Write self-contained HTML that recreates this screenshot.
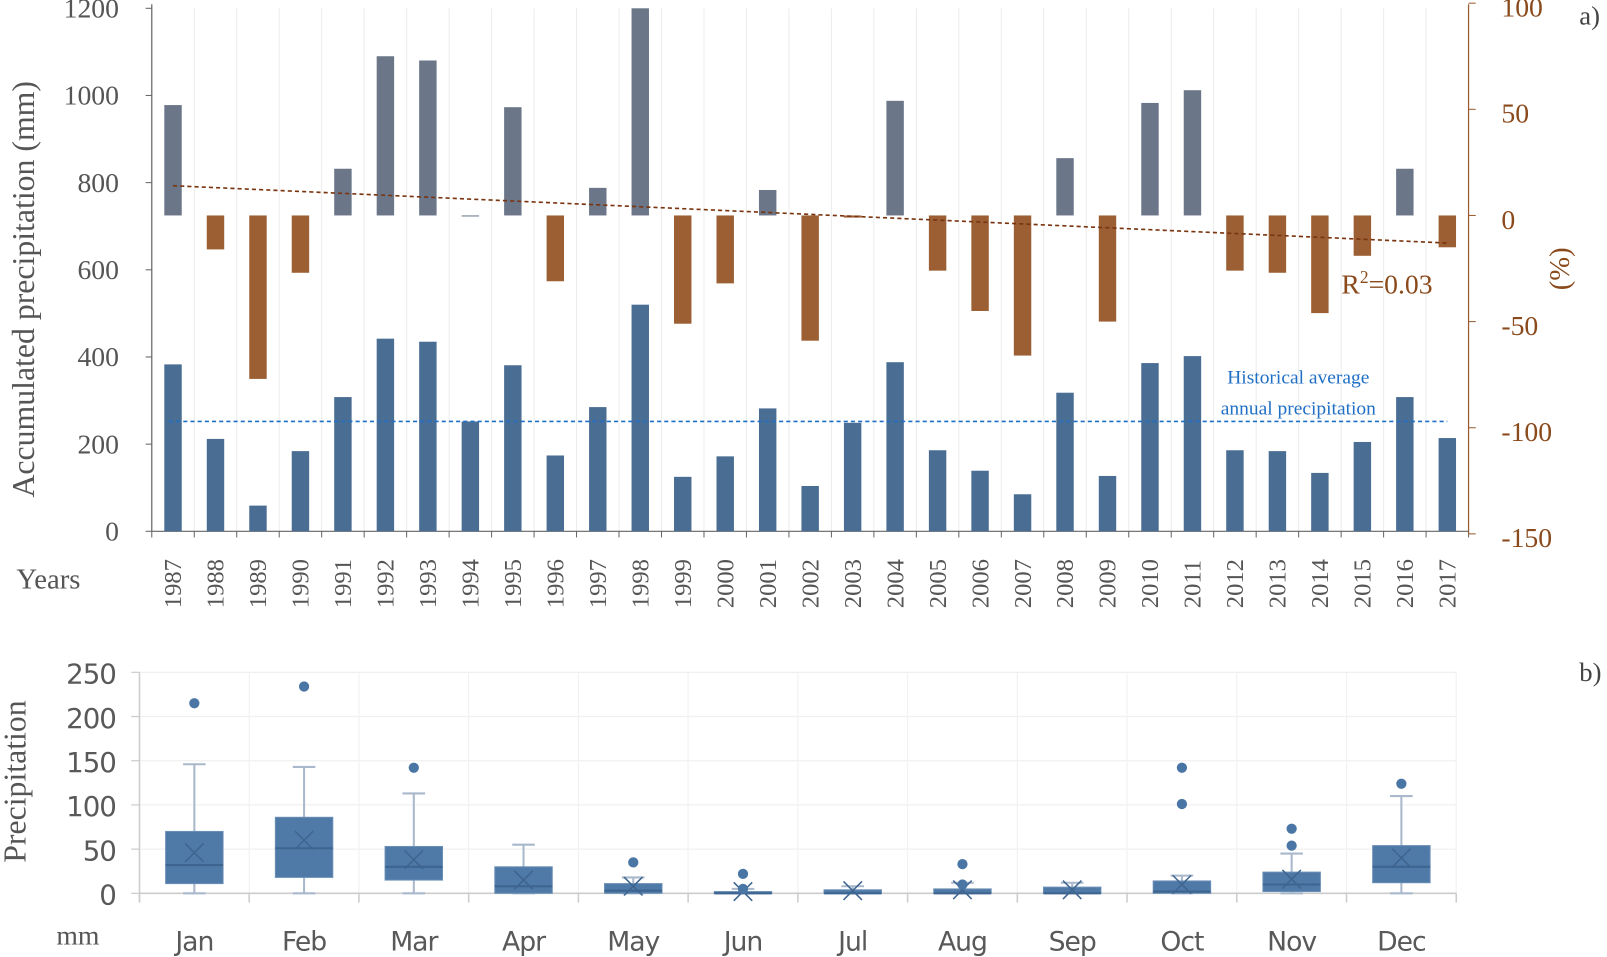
<!DOCTYPE html>
<html><head><meta charset="utf-8"><style>
html,body{margin:0;padding:0;background:#fff;}
svg{display:block;}
</style></head><body>
<svg id="chart" width="1607" height="957" viewBox="0 0 1567 933" xmlns="http://www.w3.org/2000/svg">
<g id="top"></g>
<g id="bot"></g>
</svg>
<script>
const years = [1987,1988,1989,1990,1991,1992,1993,1994,1995,1996,1997,1998,1999,2000,2001,2002,2003,2004,2005,2006,2007,2008,2009,2010,2011,2012,2013,2014,2015,2016,2017];
const precipMM = [383,212,59,184,308,442,435,252,381,174,285,520,125,172,282,104,249,388,186,139,85,318,127,386,402,186,184,134,205,308,214];
const anomalyPct = [52,-16,-77,-27,22,75,73,0,51,-31,13,106,-51,-32,12,-59,-1,54,-26,-45,-66,27,-50,53,59,-26,-27,-46,-19,22,-15];
const leftTicks = [0,200,400,600,800,1000,1200];
const rightTicks = [-150,-100,-50,0,50,100];
const historicalAvg = 252;
const trendStartEnd = [14,-13];

const months = ['Jan','Feb','Mar','Apr','May','Jun','Jul','Aug','Sep','Oct','Nov','Dec'];
const boxMin = [0,0,0,0,0,0,0,0,0,0,0,0];
const boxQ1 = [11,18,15,0,0,0,0,0,0,0,2,12];
const boxMed = [32,51,30,8,3,0,0,0,0,2,10,30];
const boxQ3 = [70,86,53,30,11,2,4,5,7,14,24,54];
const boxMax = [146,143,113,55,18,5,8,12,12,20,45,110];
const boxMean = [46,60,38,15,8,2,3,4,4,10,16,40];
const boxOutliers = [[215],[234],[142],[],[35],[22,5],[],[33,10],[],[142,101],[73,54],[124]];
const botTicks = [0,50,100,150,200,250];

const NS='http://www.w3.org/2000/svg';
function mk(parent,tag,attrs,text){const e=document.createElementNS(NS,tag);for(const k in attrs)e.setAttribute(k,attrs[k]);if(text!==undefined)e.textContent=text;parent.appendChild(e);return e;}

// ---------- top chart ----------
const T=document.getElementById('top');
const X0=148,X1=1432,step=(X1-X0)/years.length;
const yL=v=>518-v*0.425;
const yR=v=>210-v*2.07;
const xc=i=>X0+step*(i+0.5);
const serif='"Liberation Serif", serif';
for(let i=1;i<years.length;i++){const g=mk(T,'line',{x1:X0+step*i,x2:X0+step*i,y1:8,y2:518,stroke:'#ececec','stroke-width':1});
}
let ax=mk(T,'line',{x1:X0,x2:X0,y1:4,y2:518,stroke:'#666','stroke-width':1.2});

leftTicks.forEach(v=>{const y=yL(v);
 mk(T,'line',{x1:X0-6,x2:X0,y1:y,y2:y,stroke:'#666'});
 const t=mk(T,'text',{x:X0-32,y:y+9,'text-anchor':'end','font-family':serif,'font-size':27,fill:'#555'},v);
 });
ax=mk(T,'line',{x1:X0,x2:X1,y1:518,y2:518,stroke:'#666','stroke-width':1.2});

for(let i=0;i<=years.length;i++)mk(T,'line',{x1:X0+step*i,x2:X0+step*i,y1:518,y2:524,stroke:'#666'});
ax=mk(T,'line',{x1:X1,x2:X1,y1:4,y2:520,stroke:'#9a5a2e','stroke-width':1.2});

rightTicks.forEach(v=>{const y=yR(v);
 mk(T,'line',{x1:X1,x2:X1+7,y1:y,y2:y,stroke:'#9a5a2e'});
 const t=mk(T,'text',{x:X1+32,y:y+13,'text-anchor':'start','font-family':serif,'font-size':27,fill:'#8a4a1c'},v);
 });
anomalyPct.forEach((v,i)=>{const h=Math.abs(yR(v)-yR(0));
 const top=Math.max(yR(Math.max(v,0)),8);const hh=v>0?yR(0)-top:h;
 const r=mk(T,'rect',{x:xc(i)-8.5,y:v>0?top:yR(0),width:17,height:Math.max(hh,1),fill:v>=0?'#6b7789':'#9b5f33'});
 });
precipMM.forEach((v,i)=>{const r=mk(T,'rect',{x:xc(i)-8.5,y:yL(v),width:17,height:518-yL(v),fill:'#4a6d93'});
 });
let l=mk(T,'line',{x1:xc(0)-4,x2:xc(years.length-1),y1:yL(historicalAvg),y2:yL(historicalAvg),stroke:'#1f6fc5','stroke-width':1.6,'stroke-dasharray':'4,3'});

l=mk(T,'line',{x1:xc(0),x2:xc(years.length-1),y1:yR(trendStartEnd[0]),y2:yR(trendStartEnd[1]),stroke:'#7a3510','stroke-width':1.6,'stroke-dasharray':'4,3'});

years.forEach((yr,i)=>{const t=mk(T,'text',{x:0,y:0,transform:`translate(${xc(i)+8},593) rotate(-90)`,'font-family':serif,'font-size':24,fill:'#555'},yr);
 });
let t=mk(T,'text',{x:0,y:0,transform:'translate(33,282) rotate(-90)','text-anchor':'middle','font-family':serif,'font-size':31,fill:'#555'},'Accumulated precipitation (mm)');

t=mk(T,'text',{x:0,y:0,transform:'translate(1530,262) rotate(-90)','text-anchor':'middle','font-family':serif,'font-size':28,fill:'#8a4a1c'},'(%)');

t=mk(T,'text',{x:16,y:574,'font-family':serif,'font-size':28,fill:'#555'},'Years');

t=mk(T,'text',{x:1308,y:286,'font-family':serif,'font-size':27,fill:'#8a4a1c'});

t.innerHTML='R<tspan dy="-10" font-size="17">2</tspan><tspan dy="10">=0.03</tspan>';
t=mk(T,'text',{x:1266,y:374,'text-anchor':'middle','font-family':serif,'font-size':19,fill:'#1f6fc5'},'Historical average');

t=mk(T,'text',{x:1266,y:404,'text-anchor':'middle','font-family':serif,'font-size':19,fill:'#1f6fc5'},'annual precipitation');

t=mk(T,'text',{x:1540,y:24,'font-family':serif,'font-size':26,fill:'#444'},'a)');


// ---------- bottom chart ----------
const B=document.getElementById('bot');
const BX0=136,BX1=1420,bstep=(BX1-BX0)/12;
const yB=v=>871-v*0.862;
const bx=i=>BX0+bstep*(i+0.5);
const sans='"DejaVu Sans", "Liberation Sans", sans-serif';
botTicks.forEach(v=>{const y=yB(v);
 if(v>0){const g=mk(B,'line',{x1:BX0,x2:BX1,y1:y,y2:y,stroke:'#f0f0f0','stroke-width':1.2});}
 mk(B,'line',{x1:BX0-8,x2:BX0,y1:y,y2:y,stroke:'#ccc','stroke-width':1.2});
 const tt=mk(B,'text',{x:113,y:y+11,'text-anchor':'end','font-family':sans,'font-size':27,fill:'#595959','letter-spacing':'-1'},v);
 });
for(let i=1;i<=12;i++)mk(B,'line',{x1:BX0+bstep*i,x2:BX0+bstep*i,y1:yB(250),y2:871,stroke:'#f2f2f2','stroke-width':1.2});
ax=mk(B,'line',{x1:BX0,x2:BX0,y1:yB(250),y2:880,stroke:'#ccc','stroke-width':1.5});

ax=mk(B,'line',{x1:BX0,x2:BX1,y1:871,y2:871,stroke:'#ccc','stroke-width':1.5});

for(let i=0;i<=12;i++)mk(B,'line',{x1:BX0+bstep*i,x2:BX0+bstep*i,y1:871,y2:880,stroke:'#ccc','stroke-width':1.5});
months.forEach((m,i)=>{const c=bx(i),w=56;
 const g=mk(B,'g',{});
 mk(g,'line',{x1:c,x2:c,y1:yB(boxMax[i]),y2:yB(boxMin[i]),stroke:'#a9b8cb','stroke-width':2});
 mk(g,'line',{x1:c-11,x2:c+11,y1:yB(boxMax[i]),y2:yB(boxMax[i]),stroke:'#a9b8cb','stroke-width':2});
 mk(g,'line',{x1:c-11,x2:c+11,y1:yB(boxMin[i]),y2:yB(boxMin[i]),stroke:'#a9b8cb','stroke-width':2});
 mk(g,'rect',{x:c-w/2,y:yB(boxQ3[i]),width:w,height:Math.max(yB(boxQ1[i])-yB(boxQ3[i]),2),fill:'#4f79a6',stroke:'#6a8fb5','stroke-width':1});
 mk(g,'line',{x1:c-w/2,x2:c+w/2,y1:yB(boxMed[i]),y2:yB(boxMed[i]),stroke:'#3e6590','stroke-width':2});
 const my=yB(boxMean[i]);
 mk(g,'path',{d:`M${c-9} ${my-9}L${c+9} ${my+9}M${c+9} ${my-9}L${c-9} ${my+9}`,stroke:'#3e6590','stroke-width':1.5,fill:'none'});
 boxOutliers[i].forEach(o=>{const d=mk(B,'circle',{cx:c,cy:yB(o),r:5,fill:'#4a76a5'});});
 const tt=mk(B,'text',{x:c,y:927,'text-anchor':'middle','font-family':sans,'font-size':26,fill:'#595959','letter-spacing':'-1'},m);
 });
t=mk(B,'text',{x:0,y:0,transform:'translate(25,762) rotate(-90)','text-anchor':'middle','font-family':serif,'font-size':31,fill:'#555'},'Precipitation');

t=mk(B,'text',{x:55,y:921,'font-family':serif,'font-size':27,fill:'#555'},'mm');

t=mk(B,'text',{x:1540,y:664,'font-family':serif,'font-size':26,fill:'#444'},'b)');

</script>
</body></html>
